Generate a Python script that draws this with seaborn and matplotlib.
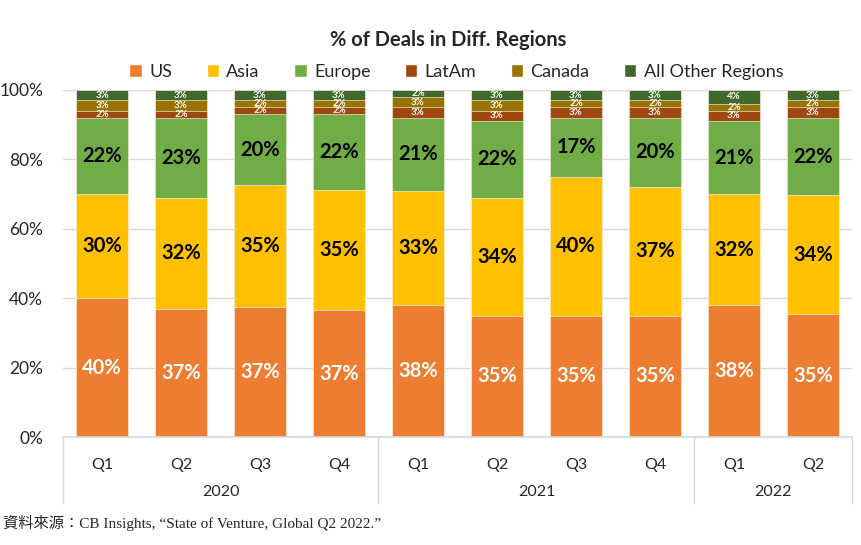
import pandas as pd
import seaborn as sns
import matplotlib.pyplot as plt
from matplotlib.patches import Patch

# quarters and years on the category axis
quarters = ['Q1', 'Q2', 'Q3', 'Q4', 'Q1', 'Q2', 'Q3', 'Q4', 'Q1', 'Q2']
years = ['2020'] * 4 + ['2021'] * 4 + ['2022'] * 2

# share of deals by region (%)
us = [40, 37, 37, 37, 38, 35, 35, 35, 38, 35]
asia = [30, 32, 35, 35, 33, 34, 40, 37, 32, 34]
europe = [22, 23, 20, 22, 21, 22, 17, 20, 21, 22]
latam = [2, 2, 2, 2, 3, 3, 3, 3, 3, 3]
canada = [3, 3, 2, 2, 3, 3, 2, 2, 2, 2]
other = [3, 3, 3, 3, 2, 3, 3, 3, 4, 3]

regions = ['US', 'Asia', 'Europe', 'LatAm', 'Canada', 'All Other Regions']
colors = ['#ED7D31', '#FFC000', '#70AD47', '#9E480E', '#997300', '#43682B']

sns.set_theme(style='white')
plt.rcParams['font.family'] = ['Lato', 'DejaVu Sans']

periods = [f'{y} {q}' for y, q in zip(years, quarters)]
df = pd.DataFrame({'period': periods, 'US': us, 'Asia': asia, 'Europe': europe,
                   'LatAm': latam, 'Canada': canada, 'All Other Regions': other})
# 100% stacked: normalise each quarter
total = df[regions].sum(axis=1)
for r in regions:
    df[r] = df[r] / total * 100
cum = df[regions].cumsum(axis=1)

fig = plt.figure(figsize=(8.61, 5.45), dpi=100)
ax = fig.add_axes([0.0726, 0.198, 0.9174, 0.637])

# draw cumulative bars from the top layer down
for r, c in list(zip(regions, colors))[::-1]:
    sns.barplot(x=df['period'], y=cum[r], color=c, saturation=1, width=0.66,
                order=periods, ax=ax, edgecolor='white', linewidth=0.4, zorder=2)

# data labels
raw = [us, asia, europe, latam, canada, other]
for i in range(len(periods)):
    for j, r in enumerate(regions):
        val = raw[j][i]
        y = cum[r][i] - df[r][i] / 2
        if j == 0:
            ax.text(i, y, f'{val}%', ha='center', va='center', fontsize=14.5,
                    fontweight='bold', color='white', zorder=3)
        elif j in (1, 2):
            ax.text(i, y, f'{val}%', ha='center', va='center', fontsize=14.5,
                    fontweight='bold', color='black', zorder=3)
        else:
            ax.text(i, y, f'{val}%', ha='center', va='center', fontsize=7,
                    fontweight='bold', color='white', zorder=3)

ax.set_ylim(0, 100)
ax.set_xlim(-0.5, len(periods) - 0.5)
ax.set_yticks([0, 20, 40, 60, 80, 100])
ax.set_yticklabels([f'{t}%' for t in [0, 20, 40, 60, 80, 100]], fontsize=12.5)
ax.yaxis.grid(True, color='#D9D9D9', linewidth=1, zorder=0)
ax.set_axisbelow(True)
ax.tick_params(axis='y', length=0, pad=14)
ax.set_xticks(range(len(periods)))
ax.set_xticklabels(quarters, fontsize=11.5)
ax.tick_params(axis='x', length=0, pad=15)
ax.set_xlabel('')
ax.set_ylabel('')
for s in ['top', 'right', 'left']:
    ax.spines[s].set_visible(False)
ax.spines['bottom'].set_color('#D9D9D9')

# year labels and group separators
trans = ax.get_xaxis_transform()
groups = [('2020', 0, 3), ('2021', 4, 7), ('2022', 8, 9)]
for name, a, b in groups:
    ax.text((a + b) / 2, -0.158, name, transform=trans, ha='center', va='center',
            fontsize=11.5)
for xb in [-0.5, 3.5, 7.5, 9.5]:
    ax.plot([xb, xb], [0, -0.19], transform=trans, color='#D9D9D9',
            linewidth=1, clip_on=False)

handles = [Patch(facecolor=c, label=r) for r, c in zip(regions, colors)]
fig.legend(handles=handles, loc='center', bbox_to_anchor=(0.53, 0.868), ncol=6,
           frameon=False, fontsize=13, handlelength=0.7, handleheight=0.7,
           handletextpad=0.4, columnspacing=1.9)

fig.text(0.52, 0.927, '% of Deals in Diff. Regions', ha='center', va='center',
         fontsize=14.5, fontweight='bold')
fig.text(0.003, 0.04, '資料來源：CB Insights, “State of Venture, Global Q2 2022.”',
         ha='left', va='center', fontsize=11,
         family=['Liberation Serif', 'Noto Sans CJK TC'])

fig.savefig('out.png', dpi=100)
